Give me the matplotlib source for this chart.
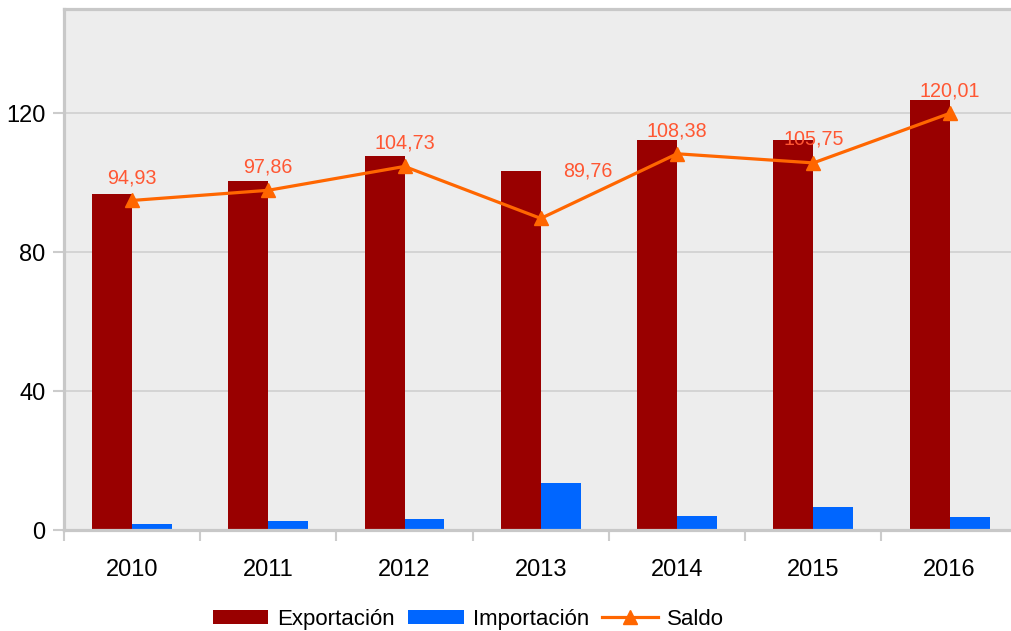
import numpy as np
import matplotlib.pyplot as plt

plt.rcParams['font.family'] = ['Liberation Sans', 'DejaVu Sans']

anios = ['2010', '2011', '2012', '2013', '2014', '2015', '2016']
exportacion = [96.7, 100.5, 107.8, 103.4, 112.3, 112.3, 123.8]
importacion = [1.8, 2.6, 3.1, 13.6, 4.0, 6.6, 3.8]
saldo = [94.93, 97.86, 104.73, 89.76, 108.38, 105.75, 120.01]
etiquetas = ['94,93', '97,86', '104,73', '89,76', '108,38', '105,75', '120,01']
# desplazamiento de cada etiqueta en pixeles (x, y)
desp = [(0, 17), (0, 18), (0, 18), (47, 42), (0, 17), (0, 18), (0, 17)]

fig = plt.figure(figsize=(10.11, 6.31), dpi=100)
ax = fig.add_axes([0.0631, 0.160, 0.9436, 0.8253])
ax.set_facecolor('#ededed')

x = np.arange(len(anios))
w = 0.293
b1 = ax.bar(x - w / 2, exportacion, w, color='#990000', label='Exportación', zorder=2)
b2 = ax.bar(x + w / 2, importacion, w, color='#0066ff', label='Importación', zorder=2)
l1, = ax.plot(x, saldo, color='#ff6600', lw=2.3, marker='^', markersize=10,
              label='Saldo', zorder=3)

for i in range(len(saldo)):
    ax.annotate(etiquetas[i], (x[i], saldo[i]), xytext=desp[i],
                textcoords='offset pixels', ha='center', va='baseline',
                color='#ff5733', fontsize=14.2, zorder=4)

ax.set_xlim(-0.5, 6.5)
ax.set_ylim(0, 150)
ax.set_yticks([0, 40, 80, 120])
ax.set_xticks(x)
ax.set_xticklabels(anios)
ax.set_xticks(np.arange(-0.5, 7, 1), minor=True)
ax.tick_params(axis='x', which='major', length=0, pad=21, labelsize=17)
ax.tick_params(axis='x', which='minor', length=8, width=1.5, color='#cccccc')
ax.tick_params(axis='y', length=8, width=1.5, color='#cccccc', pad=5, labelsize=17)
ax.grid(axis='y', color='#d0d0d0', lw=1.2, zorder=1)
ax.set_axisbelow(True)

for lado in ['left', 'top', 'bottom']:
    ax.spines[lado].set_color('#c8c8c8')
    ax.spines[lado].set_linewidth(2.3)
ax.spines['right'].set_visible(False)

fig.legend([b1, b2, l1], ['Exportación', 'Importación', 'Saldo'],
           loc='center', bbox_to_anchor=(0.463, 0.019), ncol=3, frameon=False,
           fontsize=16, handlelength=2.5, handleheight=0.6, columnspacing=0.6,
           handletextpad=0.4)

fig.savefig('out.png', dpi=100)
